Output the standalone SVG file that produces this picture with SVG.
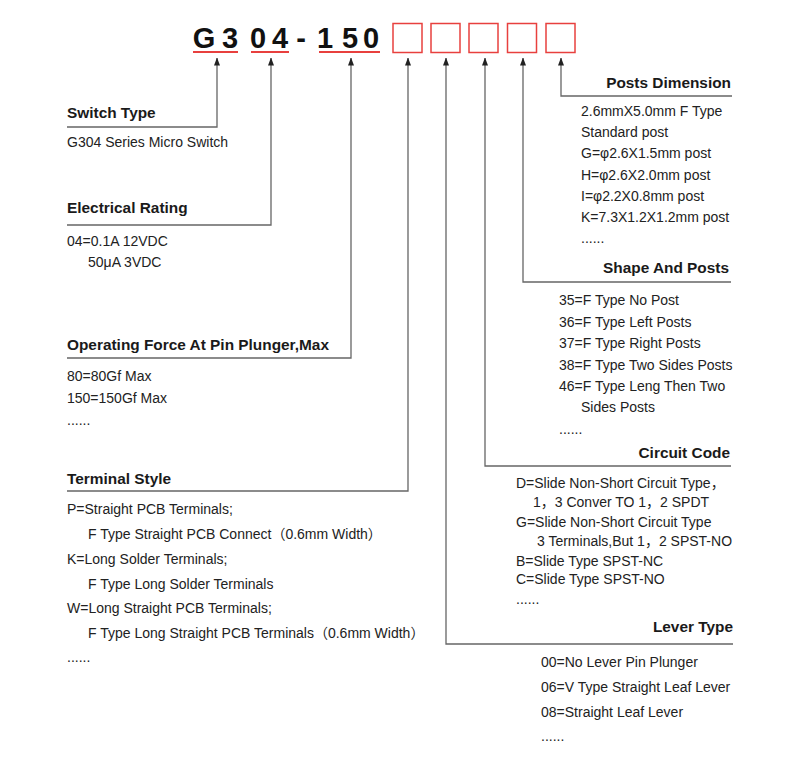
<svg xmlns="http://www.w3.org/2000/svg" width="800" height="766" viewBox="0 0 800 766">
<defs>
<marker id="arr" viewBox="0 0 8 6" refX="7.5" refY="3" markerWidth="8" markerHeight="6" markerUnits="userSpaceOnUse" orient="auto">
<path d="M0,0 L8,3 L0,6 Z" fill="#222"/>
</marker>
<style>
.t{font-family:"Liberation Sans","Noto Sans CJK SC",Arial,sans-serif;font-size:14px;fill:#222}
.h{font-family:"Liberation Sans",Arial,sans-serif;font-size:15.4px;font-weight:bold;fill:#1a1a1a}
.r{text-anchor:end}
.title{font-family:"Liberation Sans",Arial,sans-serif;font-size:29px;font-weight:bold;fill:#111;text-anchor:middle}
.box{fill:#fff;stroke:#e8403e;stroke-width:1.5}
.ul{stroke:#e8403e;stroke-width:2.2}
.c{fill:none;stroke:#666;stroke-width:1.3}
</style>
</defs>
<rect width="800" height="766" fill="#fff"/>
<g id="code">
<text class="title" x="204 230 258 280 301 325 350 371" y="48">G304-150</text>
<line class="ul" x1="193" y1="52" x2="238" y2="52"/>
<line class="ul" x1="251" y1="52" x2="289" y2="52"/>
<line class="ul" x1="319" y1="52" x2="380" y2="52"/>
<rect class="box" x="393" y="23.5" width="29" height="29"/>
<rect class="box" x="431" y="23.5" width="29" height="29"/>
<rect class="box" x="469" y="23.5" width="29" height="29"/>
<rect class="box" x="507.5" y="23.5" width="29" height="29"/>
<rect class="box" x="546" y="23.5" width="29" height="29"/>
</g>
<g id="connectors">
<path class="c" d="M67,127 H217 V58" marker-end="url(#arr)"/>
<path class="c" d="M67,225 H271 V58" marker-end="url(#arr)"/>
<path class="c" d="M67,358 H351 V58" marker-end="url(#arr)"/>
<path class="c" d="M67,491 H408 V58" marker-end="url(#arr)"/>
<path class="c" d="M733,644 H446 V58" marker-end="url(#arr)"/>
<path class="c" d="M731,466 H485 V58" marker-end="url(#arr)"/>
<path class="c" d="M731,282 H523 V58" marker-end="url(#arr)"/>
<path class="c" d="M732,96 H561 V58" marker-end="url(#arr)"/>
</g>
<g id="switch-type">
<text class="h" x="67" y="118">Switch Type</text>
<text class="t" x="67" y="147">G304 Series Micro Switch</text>
</g>
<g id="electrical-rating">
<text class="h" x="67" y="213">Electrical Rating</text>
<text class="t" x="67" y="246">04=0.1A 12VDC</text>
<text class="t" x="88" y="267">50μA  3VDC</text>
</g>
<g id="operating-force">
<text class="h" x="67" y="350">Operating Force At Pin Plunger,Max</text>
<text class="t" x="67" y="381">80=80Gf Max</text>
<text class="t" x="67" y="403">150=150Gf Max</text>
<text class="t" x="67" y="425">......</text>
</g>
<g id="terminal-style">
<text class="h" x="67" y="484">Terminal Style</text>
<text class="t" x="67" y="514">P=Straight PCB Terminals;</text>
<text class="t" x="88" y="539">F Type Straight PCB Connect（0.6mm Width）</text>
<text class="t" x="67" y="564">K=Long Solder Terminals;</text>
<text class="t" x="88" y="589">F Type Long Solder Terminals</text>
<text class="t" x="67" y="613">W=Long Straight PCB Terminals;</text>
<text class="t" x="88" y="638">F Type Long Straight PCB Terminals（0.6mm Width）</text>
<text class="t" x="67" y="662">......</text>
</g>
<g id="posts-dimension">
<text class="h r" x="731" y="88">Posts Dimension</text>
<text class="t" x="581" y="116">2.6mmX5.0mm F Type</text>
<text class="t" x="581" y="137">Standard post</text>
<text class="t" x="581" y="158">G=φ2.6X1.5mm post</text>
<text class="t" x="581" y="180">H=φ2.6X2.0mm post</text>
<text class="t" x="581" y="201">I=φ2.2X0.8mm post</text>
<text class="t" x="581" y="222">K=7.3X1.2X1.2mm post</text>
<text class="t" x="581" y="243">......</text>
</g>
<g id="shape-and-posts">
<text class="h r" x="729" y="273">Shape And Posts</text>
<text class="t" x="559" y="305">35=F Type No Post</text>
<text class="t" x="559" y="327">36=F Type Left Posts</text>
<text class="t" x="559" y="348">37=F Type Right Posts</text>
<text class="t" x="559" y="370">38=F Type Two Sides Posts</text>
<text class="t" x="559" y="391">46=F Type Leng Then Two</text>
<text class="t" x="581" y="412">Sides Posts</text>
<text class="t" x="559" y="434">......</text>
</g>
<g id="circuit-code">
<text class="h r" x="730" y="458">Circuit Code</text>
<text class="t" x="516" y="488">D=Slide Non-Short Circuit Type，</text>
<text class="t" x="533" y="507">1，3 Conver TO 1，2 SPDT</text>
<text class="t" x="516" y="527">G=Slide Non-Short Circuit Type</text>
<text class="t" x="537" y="546">3 Terminals,But 1，2 SPST-NO</text>
<text class="t" x="516" y="566">B=Slide Type SPST-NC</text>
<text class="t" x="516" y="584">C=Slide Type SPST-NO</text>
<text class="t" x="516" y="604">......</text>
</g>
<g id="lever-type">
<text class="h r" x="733" y="632">Lever Type</text>
<text class="t" x="541" y="667">00=No Lever Pin Plunger</text>
<text class="t" x="541" y="692">06=V Type Straight Leaf Lever</text>
<text class="t" x="541" y="717">08=Straight Leaf Lever</text>
<text class="t" x="541" y="741">......</text>
</g>
</svg>
